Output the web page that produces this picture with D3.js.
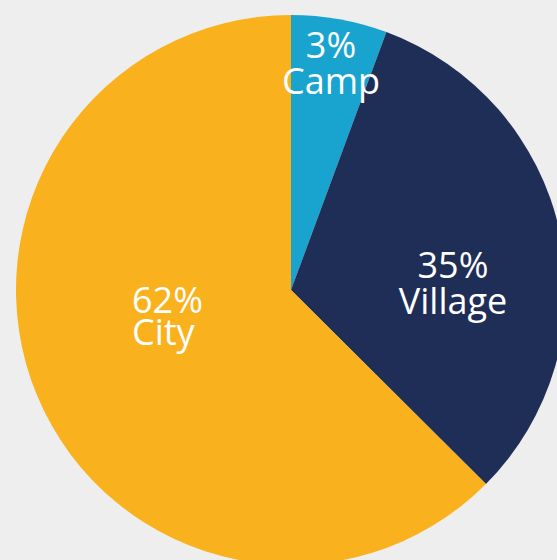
<!DOCTYPE html>
<html><head><meta charset="utf-8">
<script src="https://cdn.jsdelivr.net/npm/d3@7"></script>
<style>html,body{margin:0;padding:0;background:#eeeeee;overflow:hidden}</style>
</head><body>
<svg id="chart" width="557" height="560"></svg>
<script>
// Data (slice shares as drawn in the picture, and printed labels)
const categories = ["Camp", "Village", "City"];
const sliceShares = [5.64, 31.82, 62.54];
const percentLabels = ["3%", "35%", "62%"];
const colors = ["#19a4cf", "#1f2e56", "#f9b11d"];

// Layout
const cx = 291, cy = 290, radius = 275;
const labelLayout = [
  {dx: 40, dy: -232, anchor: "middle", gap: 36},
  {dx: 162, dy: -12, anchor: "middle", gap: 36},
  {dx: -159, dy: 23, anchor: "start", gap: 32}
];

const svg = d3.select("#chart");
svg.append("rect").attr("width", 557).attr("height", 560).attr("fill", "#eeeeee");
const g = svg.append("g").attr("transform", `translate(${cx},${cy})`);

const pie = d3.pie().sort(null).value(d => d.v);
const arc = d3.arc().innerRadius(0).outerRadius(radius);
const rows = categories.map((c, i) => ({c, v: sliceShares[i], p: percentLabels[i], col: colors[i], i}));
const arcs = pie(rows);

g.selectAll("path").data(arcs).join("path")
  .attr("d", arc)
  .attr("fill", d => d.data.col);

const labels = g.selectAll("text.lbl").data(arcs).join("text")
  .attr("class", "lbl")
  .attr("font-family", "'Open Sans', sans-serif")
  .attr("font-size", 36)
  .attr("fill", "#ffffff")
  .attr("text-anchor", d => labelLayout[d.data.i].anchor);
labels.append("tspan")
  .attr("x", d => labelLayout[d.data.i].dx)
  .attr("y", d => labelLayout[d.data.i].dy)
  .text(d => d.data.p);
labels.append("tspan")
  .attr("x", d => labelLayout[d.data.i].dx)
  .attr("y", d => labelLayout[d.data.i].dy + labelLayout[d.data.i].gap)
  .text(d => d.data.c);
</script>
</body></html>
